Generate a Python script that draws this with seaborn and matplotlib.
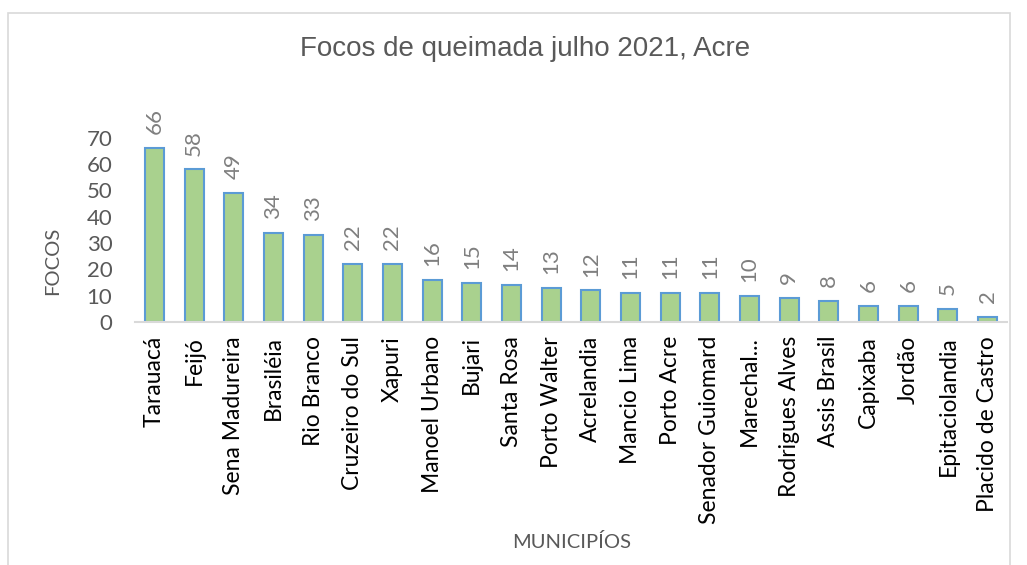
import matplotlib.pyplot as plt
import seaborn as sns
import pandas as pd
from matplotlib.patches import Rectangle

municipios = ["Tarauacá", "Feijó", "Sena Madureira", "Brasiléia", "Rio Branco",
              "Cruzeiro do Sul", "Xapuri", "Manoel Urbano", "Bujari", "Santa Rosa",
              "Porto Walter", "Acrelandia", "Mancio Lima", "Porto Acre",
              "Senador Guiomard", "Marechal...", "Rodrigues Alves", "Assis Brasil",
              "Capixaba", "Jordão", "Epitaciolandia", "Placido de Castro"]
focos = [66, 58, 49, 34, 33, 22, 22, 16, 15, 14, 13, 12, 11, 11, 11, 10, 9, 8, 6, 6, 5, 2]

df = pd.DataFrame({"municipio": municipios, "focos": focos})

sns.set_theme(style="white")
plt.rcParams['font.family'] = ['Lato', 'DejaVu Sans']

fig = plt.figure(figsize=(10.27, 5.65), dpi=100)
ax = fig.add_axes([0.131, 0.430, 0.850, 0.326])

sns.barplot(data=df, x="municipio", y="focos", ax=ax, color="#A9D18E",
            edgecolor="#5B9BD5", linewidth=1.5, width=0.48, saturation=1)

for i, v in enumerate(focos):
    ax.annotate(str(v), (i, v), xytext=(0, 10), textcoords="offset points",
                rotation=90, ha="center", va="bottom", fontsize=16,
                color="#7F7F7F", annotation_clip=False)

ax.set_ylim(0, 70)
ax.set_xlim(-0.5, len(focos) - 0.5)
ax.set_yticks(range(0, 71, 10))
ax.tick_params(axis="y", labelsize=16, labelcolor="#595959", length=0, pad=16)
ax.tick_params(axis="x", labelsize=16.5, labelcolor="#000000", length=0, rotation=90, pad=10)
for s in ["top", "right", "left"]:
    ax.spines[s].set_visible(False)
ax.spines["bottom"].set_color("#D9D9D9")
ax.spines["bottom"].set_linewidth(1.5)

ax.set_xlabel("")
ax.set_ylabel("")
fig.text(0.051, 0.538, "FOCOS", rotation=90, ha="center", va="center",
         fontsize=14.5, color="#595959")
fig.text(0.557, 0.040, "MUNICIPÍOS", ha="center", va="center",
         fontsize=14.5, color="#595959")
fig.text(0.511, 0.913, "Focos de queimada julho 2021, Acre", ha="center", va="center",
         fontsize=20, color="#595959", family=["Liberation Sans", "DejaVu Sans"])

fig.patches.append(Rectangle((0.008, -0.02), 0.975, 0.997, transform=fig.transFigure,
                             fill=False, edgecolor="#D9D9D9", linewidth=1.2))

fig.savefig("out.png", dpi=100)
